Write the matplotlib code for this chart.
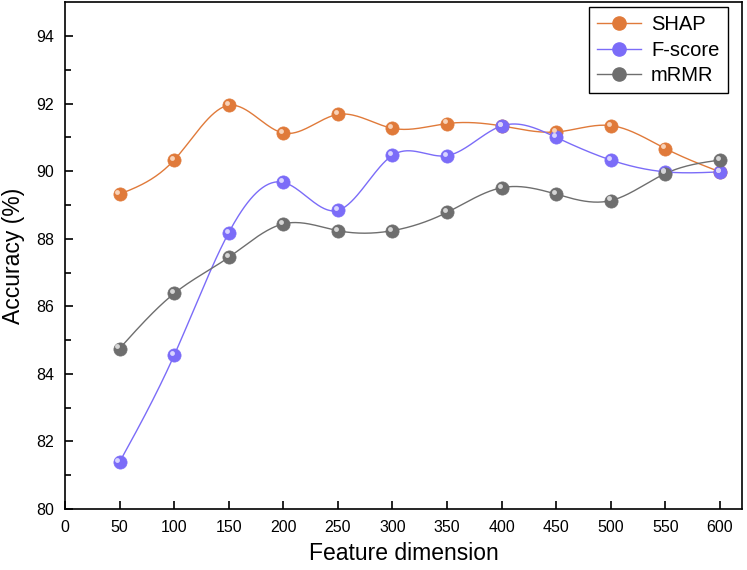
import numpy as np
import matplotlib
matplotlib.use('Agg')
import matplotlib.pyplot as plt
from matplotlib import transforms

plt.rcParams['font.family'] = ['Liberation Sans', 'DejaVu Sans']

dims = [50, 100, 150, 200, 250, 300, 350, 400, 450, 500, 550, 600]
shap = [89.32, 90.33, 91.95, 91.13, 91.68, 91.27, 91.41, 91.34, 91.16, 91.35, 90.67, 89.98]
fscore = [81.39, 84.55, 88.18, 89.67, 88.84, 90.47, 90.46, 91.34, 91.0, 90.33, 89.98, 89.98]
mrmr = [84.75, 86.38, 87.45, 88.44, 88.24, 88.24, 88.78, 89.51, 89.32, 89.13, 89.93, 90.33]

names = ['SHAP', 'F-score', 'mRMR']
colors = ['#E07A3A', '#7B6CF8', '#6E6E6E']
lights = ['#F8D2B8', '#D8D4FF', '#D6D6D6']


def natural_spline(x, y, n=400):
    x = np.asarray(x, float)
    y = np.asarray(y, float)
    k = len(x)
    h = np.diff(x)
    A = np.zeros((k, k))
    b = np.zeros(k)
    A[0, 0] = A[-1, -1] = 1
    for i in range(1, k - 1):
        A[i, i - 1] = h[i - 1]
        A[i, i] = 2 * (h[i - 1] + h[i])
        A[i, i + 1] = h[i]
        b[i] = 6 * ((y[i + 1] - y[i]) / h[i] - (y[i] - y[i - 1]) / h[i - 1])
    m = np.linalg.solve(A, b)
    xs = np.linspace(x[0], x[-1], n)
    idx = np.clip(np.searchsorted(x, xs) - 1, 0, k - 2)
    x0, x1 = x[idx], x[idx + 1]
    hh = x1 - x0
    t1 = x1 - xs
    t0 = xs - x0
    ys = (m[idx] * t1 ** 3 + m[idx + 1] * t0 ** 3) / (6 * hh) \
        + (y[idx] / hh - m[idx] * hh / 6) * t1 \
        + (y[idx + 1] / hh - m[idx + 1] * hh / 6) * t0
    return xs, ys


fig = plt.figure(figsize=(7.47, 5.70), dpi=100)
ax = fig.add_axes([0.087, 0.107, 0.906, 0.889])

hl = transforms.offset_copy(ax.transData, fig=fig, x=-1.5, y=1.5, units='points')

handles = []
for vals, name, c, lc in zip([shap, fscore, mrmr], names, colors, lights):
    xs, ys = natural_spline(dims, vals)
    ax.plot(xs, ys, color=c, lw=1.0, zorder=2)
    ax.plot(dims, vals, 'o', color=c, ms=9.5, mec=c, mew=0.5, zorder=3)
    ax.plot(dims, vals, 'o', color=lc, ms=3.5, mew=0, transform=hl, zorder=4)
    h, = ax.plot([], [], '-o', color=c, lw=1.0, ms=9.5, mec=c, label=name)
    handles.append(h)

ax.set_xlim(0, 620)
ax.set_ylim(80, 95)
ax.set_xticks(range(0, 601, 50))
ax.set_yticks(range(80, 95, 2))
ax.set_yticks(range(81, 95, 2), minor=True)
ax.tick_params(direction='in', length=6, width=1.2, labelsize=11.5, pad=8)
ax.tick_params(which='minor', direction='in', length=4, width=1.2)
for s in ax.spines.values():
    s.set_linewidth(1.2)

ax.set_xlabel('Feature dimension', fontsize=16.5, labelpad=5)
ax.set_ylabel('Accuracy (%)', fontsize=16.5, labelpad=8)

leg = ax.legend(handles=handles, loc='upper right', fontsize=14.5, fancybox=False,
                edgecolor='black', framealpha=1, handlelength=2.2,
                handletextpad=0.5, borderpad=0.4, labelspacing=0.32,
                borderaxespad=0, bbox_to_anchor=(0.979, 0.99))
leg.get_frame().set_linewidth(1.0)

fig.savefig('out.png', dpi=100)
